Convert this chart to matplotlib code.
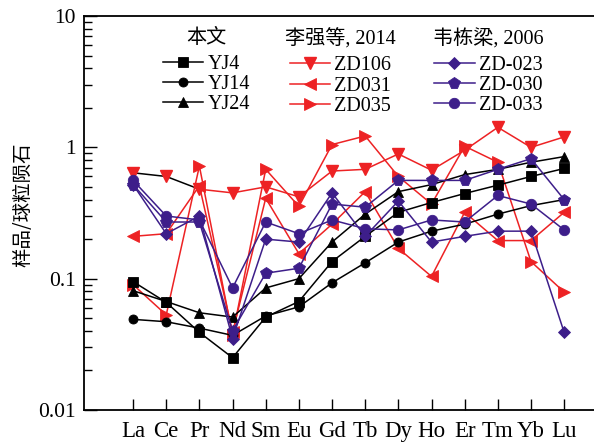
import matplotlib
matplotlib.use("Agg")
import matplotlib.pyplot as plt
from matplotlib import font_manager as fm
from matplotlib.legend import Legend
from matplotlib.font_manager import FontProperties
import numpy as np

elements = ["La", "Ce", "Pr", "Nd", "Sm", "Eu", "Gd", "Tb", "Dy", "Ho", "Er", "Tm", "Yb", "Lu"]

# 本文
YJ4  = [0.095, 0.066, 0.039, 0.025, 0.051, 0.067, 0.135, 0.21, 0.32, 0.38, 0.445, 0.515, 0.60, 0.69]
YJ14 = [0.049, 0.047, 0.042, 0.037, 0.052, 0.061, 0.093, 0.132, 0.19, 0.23, 0.26, 0.31, 0.36, 0.40]
YJ24 = [0.081, 0.067, 0.055, 0.051, 0.085, 0.10, 0.19, 0.31, 0.46, 0.52, 0.62, 0.68, 0.77, 0.85]

# 李强等, 2014
ZD106 = [0.64, 0.60, 0.48, 0.45, 0.50, 0.42, 0.66, 0.68, 0.89, 0.67, 0.95, 1.42, 1.0, 1.2]
ZD031 = [0.21, 0.22, 0.51, 0.039, 0.41, 0.155, 0.26, 0.46, 0.17, 0.104, 0.32, 0.195, 0.195, 0.32]
ZD035 = [0.09, 0.053, 0.72, 0.037, 0.68, 0.355, 1.05, 1.22, 0.60, 0.37, 1.02, 0.77, 0.135, 0.079]

# 韦栋梁, 2006
ZD023 = [0.52, 0.22, 0.30, 0.035, 0.20, 0.19, 0.45, 0.21, 0.39, 0.19, 0.21, 0.23, 0.23, 0.039]
ZD030 = [0.52, 0.27, 0.27, 0.040, 0.11, 0.12, 0.37, 0.35, 0.56, 0.56, 0.56, 0.68, 0.82, 0.40]
ZD033 = [0.56, 0.30, 0.28, 0.085, 0.27, 0.22, 0.28, 0.24, 0.235, 0.28, 0.27, 0.43, 0.37, 0.235]

RED = "#ED2224"
PUR = "#3D1E8A"
BLK = "#000000"

names = {f.name for f in fm.fontManager.ttflist}
serif = next((n for n in ["Liberation Serif", "Times New Roman", "Nimbus Roman", "DejaVu Serif"]
              if n in names), "DejaVu Serif")
CJK = "Noto Sans CJK SC"
plt.rcParams["font.family"] = [serif, CJK, "DejaVu Sans"]
plt.rcParams["font.serif"] = [serif, "DejaVu Serif"]

fig = plt.figure(figsize=(5.94, 4.44), dpi=100)
W, H = 594, 444
ax = fig.add_axes([84 / W, 1 - 410 / H, (594 - 84) / W, (410 - 16) / H])

x = np.arange(len(elements))
lw = 1.1

def series(vals, color, marker, ms, label, z):
    h, = ax.plot(x, vals, color=color, marker=marker, markersize=ms, lw=lw,
                 markeredgewidth=0.6, markeredgecolor=color, label=label, zorder=z)
    return h

h4 = series(YJ4, BLK, "s", 6.5, "YJ4", 4)
h14 = series(YJ14, BLK, "o", 6.5, "YJ14", 4)
h24 = series(YJ24, BLK, "^", 7.5, "YJ24", 4)

# ZD106: first segments drawn black in the original
ax.plot(x[2:], ZD106[2:], color=RED, lw=lw, zorder=3)
ax.plot(x[:3], ZD106[:3], color=BLK, lw=lw, zorder=3)
ax.plot(x, ZD106, ls="none", color=RED, marker="v", markersize=8, zorder=3)
h106, = ax.plot([], [], color=RED, marker="v", markersize=8, lw=lw, label="ZD106")
h031 = series(ZD031, RED, "<", 8, "ZD031", 3)
h035 = series(ZD035, RED, ">", 8, "ZD035", 3)

hd023 = series(ZD023, PUR, "D", 6.5, "ZD-023", 5)
hd030 = series(ZD030, PUR, "p", 8.5, "ZD-030", 5)
hd033 = series(ZD033, PUR, "o", 7.5, "ZD-033", 5)

ax.set_yscale("log")
ax.set_ylim(0.01, 10)
ax.set_xlim(-1.48, 13.9)
ax.set_xticks(x)
ax.set_xticklabels(elements, fontfamily=serif, fontsize=16.5)
ax.set_yticks([0.01, 0.1, 1, 10])
ax.set_yticklabels(["0.01", "0.1", "1", "10"], fontfamily=serif, fontsize=15.5)

ax.tick_params(axis="y", which="major", direction="in", length=9, width=1, pad=6)
ax.tick_params(axis="y", which="minor", direction="in", length=6, width=1)
ax.tick_params(axis="x", which="major", direction="in", length=8, width=1, pad=8)
ax.tick_params(axis="x", which="minor", bottom=False)

for s in ["left", "bottom", "top"]:
    ax.spines[s].set_linewidth(1.3)
ax.spines["right"].set_visible(False)

ax.set_ylabel("样品/球粒陨石", family=[CJK, "DejaVu Sans"], fontsize=14)
ax.yaxis.set_label_coords(-0.10, 0.52)

def mk_legend(handles, xpix, ypix, title):
    leg = Legend(ax, handles, [h.get_label() for h in handles], loc="upper left",
                 bbox_to_anchor=(xpix / W, 1 - ypix / H), bbox_transform=fig.transFigure,
                 frameon=False, prop=FontProperties(family=[serif], size=14.5),
                 title=title, title_fontproperties=FontProperties(family=[serif, CJK], size=14.5),
                 handlelength=2.0, handletextpad=0.2, labelspacing=0.05,
                 borderpad=0.0, borderaxespad=0.0)
    leg._legend_box.sep = 5
    ax.add_artist(leg)
    return leg

mk_legend([h4, h14, h24], 163, 29, "本文")
mk_legend([h106, h031, h035], 285, 29, "李强等, 2014")
mk_legend([hd023, hd030, hd033], 433, 29, "韦栋梁, 2006")

fig.savefig("out.png", dpi=100)
